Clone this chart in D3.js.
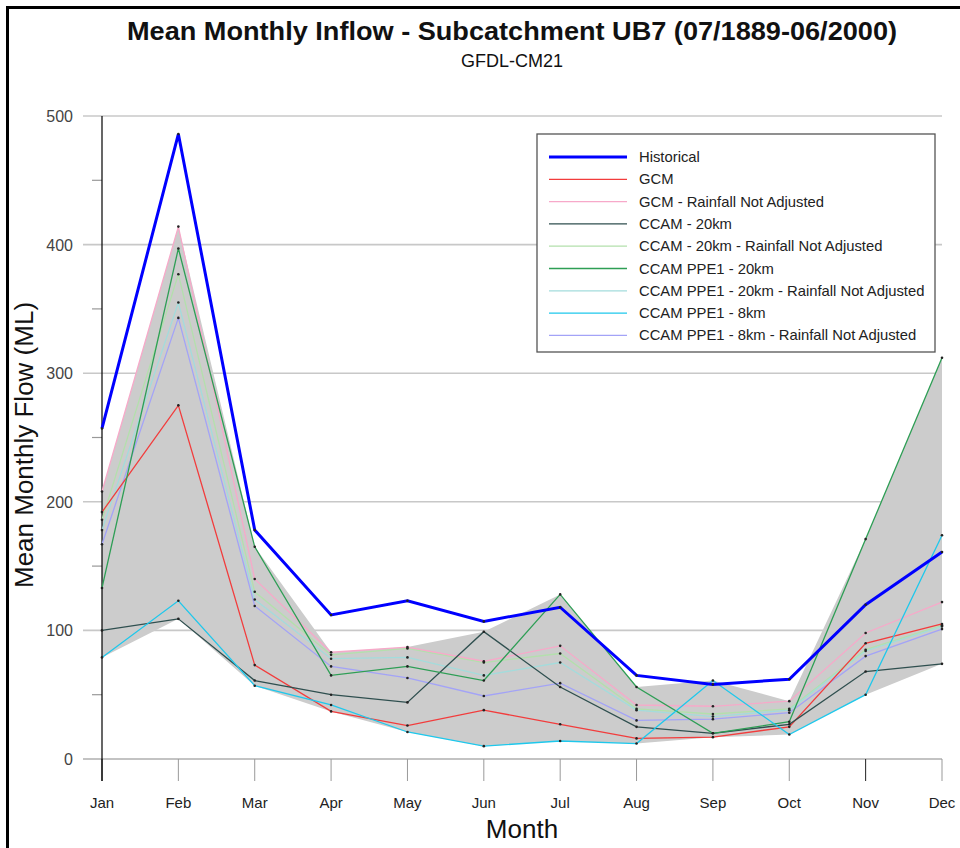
<!DOCTYPE html>
<html><head><meta charset="utf-8">
<script src="https://cdn.jsdelivr.net/npm/d3@7"></script>
<style>body{margin:0;background:#fff;} svg{display:block;font-family:"Liberation Sans",Arial,sans-serif;}</style>
</head><body><svg id="c" width="960" height="848"></svg>
<script>
const months = ["Jan","Feb","Mar","Apr","May","Jun","Jul","Aug","Sep","Oct","Nov","Dec"];
const yTicks = [0,100,200,300,400,500];
const yMinorTicks = [50,150,250,350,450];
const seriesNames = ["Historical","GCM","GCM - Rainfall Not Adjusted","CCAM - 20km","CCAM - 20km - Rainfall Not Adjusted","CCAM PPE1 - 20km","CCAM PPE1 - 20km - Rainfall Not Adjusted","CCAM PPE1 - 8km","CCAM PPE1 - 8km - Rainfall Not Adjusted"];
const historical   = [257,486,178,112,123,107,118,65,58,62,120,161];
const gcm          = [192,275,73,37,26,38,27,16,17,25,90,105];
const gcmRNA       = [208,414,140,83,87,76,88,42,41,45,98,122];
const ccam20       = [100,109,61,50,44,99,56,25,20,27,68,74];
const ccam20RNA    = [186,377,130,81,86,75,82,39,35,39,85,104];
const ppe20        = [133,397,165,65,72,61,128,56,20,29,171,312];
const ppe20RNA     = [178,355,124,78,79,65,75,38,33,38,84,103];
const ppe8         = [79,123,57,42,21,10,14,12,61,19,50,174];
const ppe8RNA      = [167,343,119,72,63,49,59,30,31,36,80,101];
const seriesColors = ["#0000ff","#f23c3c","#f7a9c9","#2f4f4f","#b3e0ac","#2e9e55","#a3dcdc","#1ec8ec","#a3a3f7"];
const seriesValues = [historical,gcm,gcmRNA,ccam20,ccam20RNA,ppe20,ppe20RNA,ppe8,ppe8RNA];

const svg = d3.select("#c");
const x = d3.scalePoint().domain(months).range([102,942]);
const y = d3.scaleLinear().domain([0,500]).range([759,116]);

// frame
svg.append("path").attr("d","M7.5,848 L7.5,7.5 L960,7.5").attr("fill","none").attr("stroke","#000").attr("stroke-width",3);

// gridlines
svg.append("g").selectAll("line").data(yTicks).join("line")
  .attr("x1",83).attr("x2",942).attr("y1",d=>y(d)).attr("y2",d=>y(d))
  .attr("stroke",d=>d===0?"#888":"#c8c8c8").attr("stroke-width",d=>d===0?1.2:1.6);
svg.append("g").selectAll("line").data(yMinorTicks).join("line")
  .attr("x1",92).attr("x2",102).attr("y1",d=>y(d)).attr("y2",d=>y(d))
  .attr("stroke","#999").attr("stroke-width",1.2);
svg.append("g").selectAll("text").data(yTicks).join("text")
  .attr("x",73).attr("y",d=>y(d)+6).attr("text-anchor","end")
  .attr("font-size",16).attr("fill","#444").text(d=>d);

// x ticks
svg.append("g").selectAll("line").data(months).join("line")
  .attr("x1",d=>x(d)).attr("x2",d=>x(d)).attr("y1",759).attr("y2",781)
  .attr("stroke",(d,i)=>(i===0||i===10)?"#222":"#999").attr("stroke-width",1);
svg.append("g").selectAll("text").data(months).join("text")
  .attr("x",d=>x(d)).attr("y",808).attr("text-anchor","middle")
  .attr("font-size",15).attr("fill","#222").text(d=>d);

// envelope band of model series
const models = seriesValues.slice(1);
const band = months.map((m,i)=>({m, lo:d3.min(models,s=>s[i]), hi:d3.max(models,s=>s[i])}));
svg.append("path").datum(band)
  .attr("d", d3.area().x(d=>x(d.m)).y0(d=>y(d.lo)).y1(d=>y(d.hi)))
  .attr("fill","#cccccc");

// axis line
svg.append("line").attr("x1",102).attr("x2",102).attr("y1",116).attr("y2",781).attr("stroke","#000").attr("stroke-width",1.2);

// lines
const line = d3.line().x((d,i)=>x(months[i])).y(d=>y(d));
const order = [4,6,8,2,1,3,5,7,0];
order.forEach(k=>{
  svg.append("path").datum(seriesValues[k]).attr("d",line).attr("fill","none")
    .attr("stroke",seriesColors[k]).attr("stroke-width",k===0?3:1.3);
});
order.forEach(k=>{
  svg.append("g").selectAll("circle").data(seriesValues[k]).join("circle")
    .attr("cx",(d,i)=>x(months[i])).attr("cy",d=>y(d)).attr("r",1.3).attr("fill","#222");
});

// legend
const lg = svg.append("g");
lg.append("rect").attr("x",537).attr("y",134).attr("width",398).attr("height",218)
  .attr("fill","#fff").attr("stroke","#555").attr("stroke-width",1.3);
seriesNames.forEach((n,i)=>{
  const yy = 157 + i*22.3;
  lg.append("line").attr("x1",549).attr("x2",627).attr("y1",yy).attr("y2",yy)
    .attr("stroke",seriesColors[i]).attr("stroke-width",i===0?3:1.3);
  lg.append("text").attr("x",639).attr("y",yy+5).attr("font-size",14.8).attr("fill","#222").text(n);
});

// titles
svg.append("text").attr("x",512).attr("y",40).attr("text-anchor","middle")
  .attr("font-size",25).attr("font-weight","bold").attr("fill","#111")
  .attr("textLength",770).attr("lengthAdjust","spacingAndGlyphs")
  .text("Mean Monthly Inflow - Subcatchment UB7 (07/1889-06/2000)");
svg.append("text").attr("x",512).attr("y",67).attr("text-anchor","middle")
  .attr("font-size",18).attr("fill","#111").text("GFDL-CM21");
svg.append("text").attr("transform","translate(33,445) rotate(-90)").attr("text-anchor","middle")
  .attr("font-size",26).attr("fill","#111").text("Mean Monthly Flow (ML)");
svg.append("text").attr("x",522).attr("y",838).attr("text-anchor","middle")
  .attr("font-size",26).attr("fill","#111").text("Month");
</script></body></html>
